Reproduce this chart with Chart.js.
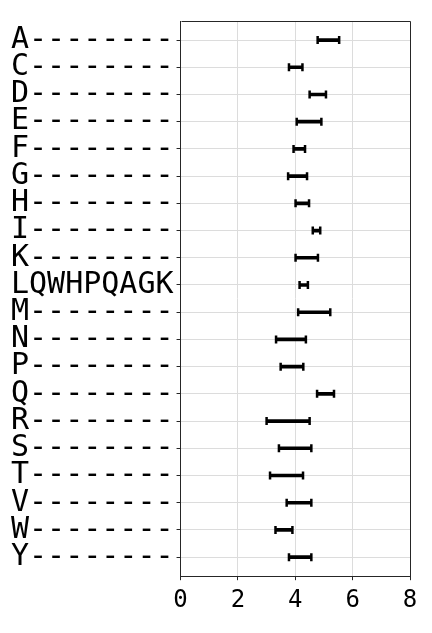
<!DOCTYPE html>
<html>
<head>
<meta charset="utf-8">
<script src="https://cdn.jsdelivr.net/npm/chart.js@4/dist/chart.umd.min.js"></script>
<style>
  html, body { margin: 0; padding: 0; background: #fff; }
  #wrap { width: 432px; height: 633px; }
</style>
</head>
<body>
<div id="wrap"><canvas id="c" width="432" height="633"></canvas></div>
<script>
const categories = ["A--------","C--------","D--------","E--------","F--------","G--------","H--------","I--------","K--------","LQWHPQAGK","M--------","N--------","P--------","Q--------","R--------","S--------","T--------","V--------","W--------","Y--------"];
const lowValues  = [4.78,3.78,4.50,4.05,3.94,3.75,4.01,4.61,4.01,4.15,4.10,3.33,3.49,4.76,3.00,3.43,3.12,3.70,3.31,3.78];
const highValues = [5.53,4.25,5.07,4.91,4.34,4.41,4.48,4.87,4.79,4.44,5.22,4.37,4.28,5.35,4.50,4.56,4.27,4.56,3.90,4.56];
const xTicks = [0,2,4,6,8];

const barData = categories.map((c, i) => ({ y: i, x: [lowValues[i], highValues[i]] }));
const capData = [];
categories.forEach((c, i) => {
  capData.push({ x: lowValues[i], y: i });
  capData.push({ x: highValues[i], y: i });
});

const gridColor = '#dcdcdc';
const axisColor = '#262626';

const frame = {
  id: 'frame',
  afterDraw(chart) {
    const a = chart.chartArea, ctx = chart.ctx;
    ctx.save();
    ctx.strokeStyle = axisColor;
    ctx.lineWidth = 1;
    ctx.beginPath();
    ctx.moveTo(Math.round(a.left) + 0.5, Math.round(a.top) + 0.5);
    ctx.lineTo(Math.round(a.right) + 0.5, Math.round(a.top) + 0.5);
    ctx.lineTo(Math.round(a.right) + 0.5, Math.round(a.bottom) + 0.5);
    ctx.stroke();
    ctx.restore();
  }
};

new Chart(document.getElementById('c'), {
  type: 'bar',
  data: {
    datasets: [
      {
        type: 'bar',
        data: barData,
        backgroundColor: '#000',
        borderWidth: 0,
        barThickness: 3,
        indexAxis: 'y'
      },
      {
        type: 'scatter',
        data: capData,
        pointStyle: 'line',
        rotation: 90,
        radius: 4,
        borderColor: '#000',
        borderWidth: 2.5,
        showLine: false,
        indexAxis: 'y'
      }
    ]
  },
  plugins: [frame],
  options: {
    indexAxis: 'y',
    responsive: false,
    animation: false,
    layout: { padding: { left: 8, right: 22, top: 20, bottom: 12 } },
    plugins: { legend: { display: false }, tooltip: { enabled: false } },
    scales: {
      x: {
        type: 'linear',
        min: 0, max: 8,
        offset: false,
        afterBuildTicks: (axis) => { axis.ticks = xTicks.map(v => ({ value: v })); },
        grid: { color: gridColor, lineWidth: 1, tickLength: 4, tickColor: axisColor, drawTicks: true, offset: false },
        border: { color: axisColor, width: 1 },
        ticks: { color: '#000', font: { family: 'DejaVu Sans Mono', size: 24 }, padding: 6, maxRotation: 0 }
      },
      y: {
        type: 'linear',
        reverse: true,
        offset: false,
        min: -0.7, max: 19.7,
        afterBuildTicks: (axis) => { axis.ticks = categories.map((c, i) => ({ value: i })); },
        grid: { color: gridColor, lineWidth: 1, tickLength: 4, tickColor: axisColor, offset: false },
        border: { color: axisColor, width: 1 },
        ticks: {
          color: '#000',
          font: { family: 'DejaVu Sans Mono', size: 30 },
          padding: 3,
          autoSkip: false,
          callback: (v) => categories[v]
        }
      }
    }
  }
});
</script>
</body>
</html>
